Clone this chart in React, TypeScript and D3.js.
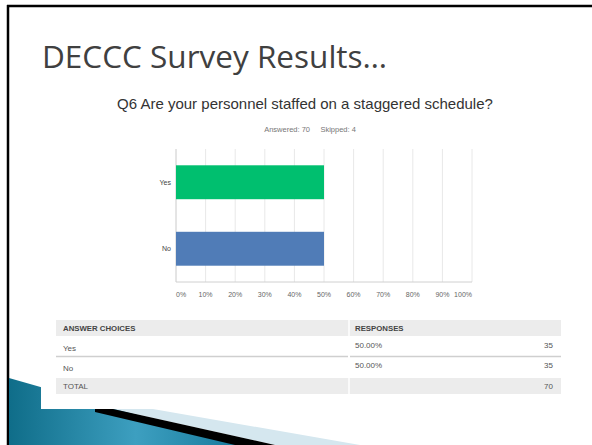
import * as d3 from "d3";

const slideTitle = "DECCC Survey Results…";
const question = "Q6 Are your personnel staffed on a staggered schedule?";
const answered = 70;
const skipped = 4;

const categories = ["Yes", "No"];
const percents = [50, 50];
const counts = [35, 35];
const barColors = ["#00bf6f", "#507cb7"];
const xTicks = [0, 10, 20, 30, 40, 50, 60, 70, 80, 90, 100];
const total = 70;

const W = 592;
const H = 445;

export default function App() {
  const x = d3.scaleLinear().domain([0, 100]).range([176, 472]);
  const y = d3.scaleBand<string>().domain(categories).range([149, 282]).paddingInner(0.49).paddingOuter(0.245);

  const sans = "'Liberation Sans', Arial, sans-serif";
  const tblLeft = 56;
  const tblRight = 561;
  const colDiv = 349;
  const rowY = [348, 368];

  return (
    <svg width={W} height={H} style={{ position: "absolute", left: 0, top: 0, background: "#fff" }}>
      <defs>
        <linearGradient id="teal" x1="0" y1="0" x2="1" y2="0" gradientUnits="objectBoundingBox">
          <stop offset="0" stopColor="#0f6d89" />
          <stop offset="0.55" stopColor="#3d9fc0" />
          <stop offset="1" stopColor="#167a9c" />
        </linearGradient>
      </defs>

      {/* slide frame */}
      <line x1={7} x2={W} y1={6} y2={6} stroke="#000" strokeWidth={2.5} />
      <line x1={8} x2={8} y1={5} y2={H} stroke="#000" strokeWidth={2.5} />

      {/* bottom-left decoration */}
      <polygon points="9,378 100,404 240,445 9,445" fill="url(#teal)" />
      <polygon points="130,405 360,445 275,445 95,405" fill="#d5e7ef" />
      <polygon points="95,405 275,445 235,445 95,412" fill="#000" />

      {/* pasted chart image */}
      <rect x={41} y={95} width={W - 41} height={409 - 95} fill="#fff" />

      <text x={42} y={68} fontFamily="'Open Sans', sans-serif" fontSize={31.5} fill="#404040">
        {slideTitle}
      </text>
      <text x={305} y={109} textAnchor="middle" fontFamily={sans} fontSize={15} fill="#333">
        {question}
      </text>
      <text x={310} y={132} textAnchor="middle" fontFamily={sans} fontSize={7.5} fill="#777" xmlSpace="preserve">
        {`Answered: ${answered}     Skipped: ${skipped}`}
      </text>

      {/* grid */}
      {xTicks.map((t) => (
        <line key={t} x1={x(t)} x2={x(t)} y1={149} y2={282} stroke="#e8e8e8" strokeWidth={1} />
      ))}
      <line x1={x(0)} x2={x(0)} y1={149} y2={282} stroke="#d6d6d6" strokeWidth={1} />
      <line x1={x(0)} x2={x(100)} y1={282} y2={282} stroke="#d0d0d0" strokeWidth={1} />

      {categories.map((c, i) => (
        <g key={c}>
          <rect x={x(0)} y={y(c)} width={x(percents[i]) - x(0)} height={y.bandwidth()} fill={barColors[i]} />
          <text x={171} y={(y(c) ?? 0) + y.bandwidth() / 2} dy="0.35em" textAnchor="end" fontFamily={sans} fontSize={7} fill="#444">
            {c}
          </text>
        </g>
      ))}

      {xTicks.map((t, i) => (
        <text
          key={t}
          x={x(t)}
          y={295}
          dy="0.35em"
          textAnchor={i === 0 ? "start" : i === xTicks.length - 1 ? "end" : "middle"}
          fontFamily={sans}
          fontSize={7}
          fill="#666"
        >
          {`${t}%`}
        </text>
      ))}

      {/* table */}
      <rect x={tblLeft} y={320} width={tblRight - tblLeft} height={16} fill="#ececec" />
      <rect x={tblLeft} y={378} width={tblRight - tblLeft} height={16} fill="#ececec" />
      <line x1={colDiv} x2={colDiv} y1={320} y2={336} stroke="#fff" strokeWidth={1.5} />
      <line x1={colDiv} x2={colDiv} y1={378} y2={394} stroke="#fff" strokeWidth={1.5} />
      <line x1={tblLeft} x2={colDiv - 1} y1={356.5} y2={356.5} stroke="#cfcfcf" strokeWidth={1.5} />
      <line x1={colDiv + 1} x2={tblRight} y1={356.5} y2={356.5} stroke="#cfcfcf" strokeWidth={1.5} />

      <text x={63} y={328} dy="0.35em" fontFamily={sans} fontSize={7.8} fontWeight="bold" fill="#444">
        ANSWER CHOICES
      </text>
      <text x={355} y={328} dy="0.35em" fontFamily={sans} fontSize={7.8} fontWeight="bold" fill="#444">
        RESPONSES
      </text>

      {categories.map((c, i) => (
        <g key={c} fontFamily={sans} fontSize={8} fill="#555">
          <text x={63} y={rowY[i]} dy="0.35em">{c}</text>
          <text x={355} y={rowY[i] - 3} dy="0.35em">{`${percents[i].toFixed(2)}%`}</text>
          <text x={553} y={rowY[i] - 3} dy="0.35em" textAnchor="end">{counts[i]}</text>
        </g>
      ))}
      <text x={63} y={386} dy="0.35em" fontFamily={sans} fontSize={8} fill="#555">
        TOTAL
      </text>
      <text x={553} y={386} dy="0.35em" textAnchor="end" fontFamily={sans} fontSize={8} fill="#555">
        {total}
      </text>
    </svg>
  );
}
